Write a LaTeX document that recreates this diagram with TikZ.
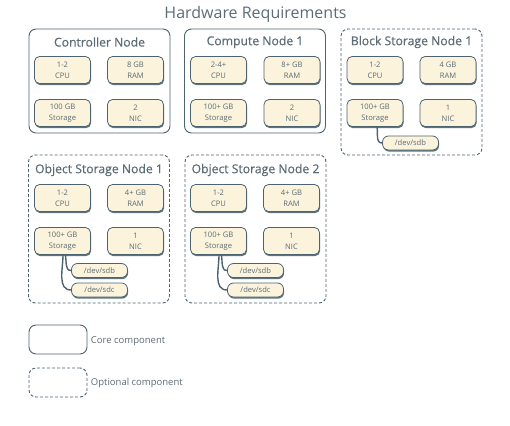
\documentclass[tikz,border=0pt]{standalone}
\usepackage{fontspec}
\setmainfont{Open Sans}
\newfontfamily\hwsemi{Open Sans}[FakeBold=0.5]
\usepackage{tikz}
\usetikzlibrary{shadows}
\definecolor{hwline}{HTML}{4D6470}
\definecolor{hwtext}{HTML}{5C6C75}
\definecolor{hwfill}{HTML}{FBF3DC}
\tikzset{
  hwcore/.style={draw=hwline, line width=0.9pt, rounded corners=7pt, minimum width=141pt, minimum height=104pt},
  hwopt/.style={hwcore, dash pattern=on 3pt off 2pt},
  hwtitle/.style={text=hwtext, font=\hwsemi\fontsize{12.2}{14}\selectfont},
  hwpart/.style={draw=hwline, line width=0.8pt, fill=hwfill, rounded corners=5pt, minimum width=56pt, minimum height=27pt,
    inner sep=0pt, align=center, text=hwtext, font=\fontsize{7.6}{11}\selectfont,
    drop shadow={shadow xshift=0.6pt, shadow yshift=-1.6pt, fill=hwline, opacity=0.9}},
  hwdisk/.style={hwpart, minimum width=56pt, minimum height=14pt, rounded corners=6pt},
  hwlink/.style={draw=hwline, line width=1.4pt},
  hwkey/.style={text=hwtext, font=\fontsize{9.5}{11}\selectfont, anchor=west}
}
\begin{document}
\begin{tikzpicture}[x=1pt, y=-1pt]
    \useasboundingbox (0,0) rectangle (510,425);
    \node[text=hwtext, font=\fontsize{16}{19}\selectfont] (title) at (255.5,14) {Hardware Requirements};

    \node[hwcore] (ctrl) at (99.5,81) {};
    \node[hwtitle] (ctrlname) at (99.5,42) {Controller Node};
    \node[hwpart] (ctrlcpu) at (62.5,70) {1-2\\CPU};
    \node[hwpart] (ctrlram) at (135.5,70) {8 GB\\RAM};
    \node[hwpart] (ctrlstor) at (62.5,113) {100 GB\\Storage};
    \node[hwpart] (ctrlnic) at (135.5,113) {2\\NIC};

    \node[hwcore] (comp) at (255,81) {};
    \node[hwtitle] (compname) at (255,42) {Compute Node 1};
    \node[hwpart] (compcpu) at (218.5,70) {2-4+\\CPU};
    \node[hwpart] (compram) at (292,70) {8+ GB\\RAM};
    \node[hwpart] (compstor) at (218.5,113) {100+ GB\\Storage};
    \node[hwpart] (compnic) at (292,113) {2\\NIC};

    \node[hwopt, minimum height=126pt] (blk) at (411.5,92) {};
    \node[hwtitle] (blkname) at (411.5,42) {Block Storage Node 1};
    \node[hwpart] (blkcpu) at (375,70) {1-2\\CPU};
    \node[hwpart] (blkram) at (448,70) {4 GB\\RAM};
    \node[hwpart] (blkstor) at (375,113) {100+ GB\\Storage};
    \node[hwpart] (blknic) at (448,113) {1\\NIC};
    \node[hwdisk] (blksdb) at (410.5,143) {/dev/sdb};
    \draw[hwlink] ([xshift=2pt]blkstor.south) to[out=-80,in=180] (blksdb.west);

    \node[hwopt, minimum height=148pt] (obja) at (99,229) {};
    \node[hwtitle] (objaname) at (99,170) {Object Storage Node 1};
    \node[hwpart] (objacpu) at (62.5,198) {1-2\\CPU};
    \node[hwpart] (objaram) at (135.5,198) {4+ GB\\RAM};
    \node[hwpart] (objastor) at (62.5,241) {100+ GB\\Storage};
    \node[hwpart] (objanic) at (135.5,241) {1\\NIC};
    \node[hwdisk] (objasdb) at (99.5,270.5) {/dev/sdb};
    \node[hwdisk] (objasdc) at (99.5,290) {/dev/sdc};
    \draw[hwlink] ([xshift=3pt]objastor.south) to[out=-80,in=180] (objasdb.west);
    \draw[hwlink] ([xshift=0.5pt]objastor.south) to[out=-90,in=180] (objasdc.west);

    \node[hwopt, minimum height=148pt] (objb) at (255.5,229) {};
    \node[hwtitle] (objbname) at (255.5,170) {Object Storage Node 2};
    \node[hwpart] (objbcpu) at (218.5,198) {1-2\\CPU};
    \node[hwpart] (objbram) at (291.5,198) {4+ GB\\RAM};
    \node[hwpart] (objbstor) at (218.5,241) {100+ GB\\Storage};
    \node[hwpart] (objbnic) at (291.5,241) {1\\NIC};
    \node[hwdisk] (objbsdb) at (255.5,270.5) {/dev/sdb};
    \node[hwdisk] (objbsdc) at (255.5,290) {/dev/sdc};
    \draw[hwlink] ([xshift=3pt]objbstor.south) to[out=-80,in=180] (objbsdb.west);
    \draw[hwlink] ([xshift=0.5pt]objbstor.south) to[out=-90,in=180] (objbsdc.west);

    \node[hwcore, minimum width=58pt, minimum height=29pt] (keycore) at (58,339.5) {};
    \node[hwkey] (keycoretxt) at ([yshift=-1.5pt]keycore.east) {Core component};
    \node[hwopt, minimum width=58pt, minimum height=29pt] (keyopt) at (58,382.5) {};
    \node[hwkey] (keyopttxt) at ([yshift=-1pt]keyopt.east) {Optional component};
\end{tikzpicture}
\end{document}
